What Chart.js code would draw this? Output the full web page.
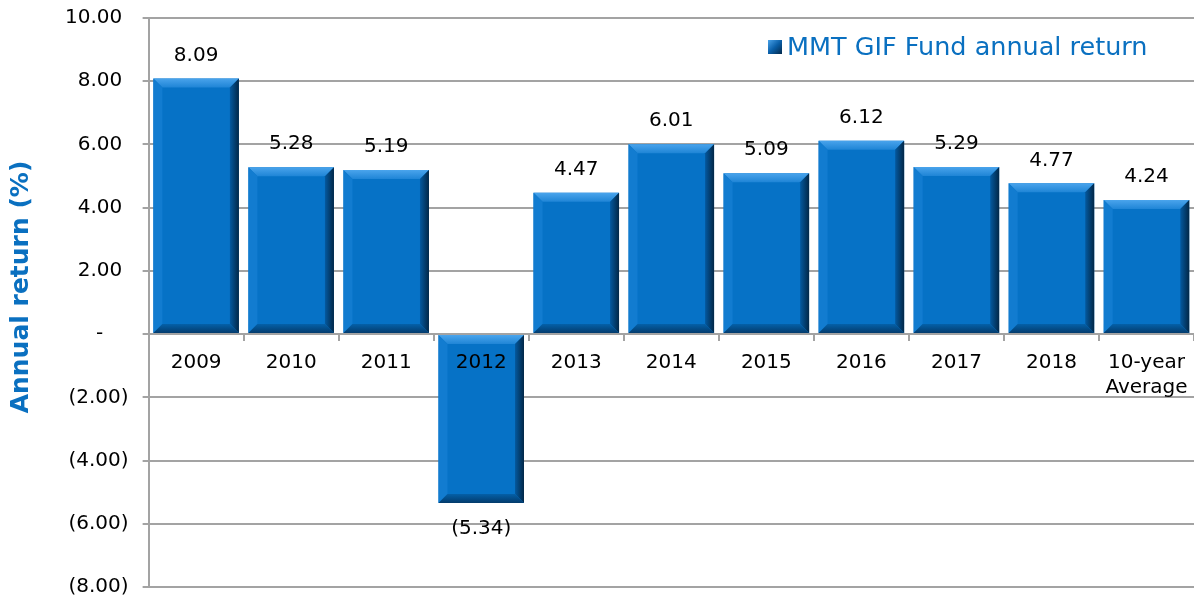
<!DOCTYPE html>
<html lang="en">
<head>
<meta charset="UTF-8">
<title>MMT GIF Fund annual return</title>
<script src="https://cdn.jsdelivr.net/npm/chart.js@4.4.1/dist/chart.umd.min.js"></script>
<style>
  html, body { margin: 0; padding: 0; background: #fff; }
  #wrap { width: 1194px; height: 598px; }
</style>
</head>
<body>
<div id="wrap"><canvas id="chart" width="1194" height="598"></canvas></div>
<script>
  const categories = ['2009', '2010', '2011', '2012', '2013', '2014', '2015', '2016', '2017', '2018', ['10-year', 'Average']];
  const annualReturn = [8.09, 5.28, 5.19, -5.34, 4.47, 6.01, 5.09, 6.12, 5.29, 4.77, 4.24];
  const seriesName = 'MMT GIF Fund annual return';
  const axisTitle = 'Annual return (%)';
  const yTicks = [-8, -6, -4, -2, 0, 2, 4, 6, 8, 10];

  const FONT = 'DejaVu Sans, Verdana, sans-serif';
  const BLUE = '#0672c6';
  const GRID = '#a3a3a3';

  // excel accounting style: (2.00), -, 10.00
  function fmt(v) {
    if (Math.abs(v) < 1e-9) return '-    ';
    if (v < 0) return '(' + Math.abs(v).toFixed(2) + ')';
    return v.toFixed(2) + ' ';
  }

  // bevelled look on top of each bar the library drew
  const bevel = {
    id: 'bevel',
    afterDatasetsDraw(chart) {
      const ctx = chart.ctx;
      const b = 9;
      chart.getDatasetMeta(0).data.forEach(bar => {
        const l = bar.x - bar.width / 2, r = bar.x + bar.width / 2;
        const t = Math.min(bar.y, bar.base), bt = Math.max(bar.y, bar.base);
        ctx.save();
        let g = ctx.createLinearGradient(0, t, 0, t + b);
        g.addColorStop(0, '#4aa4ec');
        g.addColorStop(1, '#1f85d6');
        poly(ctx, [[l, t], [r, t], [r - b, t + b], [l + b, t + b]], g);
        poly(ctx, [[l, t], [l + b, t + b], [l + b, bt - b], [l, bt]], '#127cd0');
        g = ctx.createLinearGradient(r - b, 0, r, 0);
        g.addColorStop(0, '#04599f');
        g.addColorStop(1, '#022747');
        poly(ctx, [[r, t], [r, bt], [r - b, bt - b], [r - b, t + b]], g);
        g = ctx.createLinearGradient(0, bt - b, 0, bt);
        g.addColorStop(0, '#0460a8');
        g.addColorStop(1, '#033b6c');
        poly(ctx, [[l, bt], [r, bt], [r - b, bt - b], [l + b, bt - b]], g);
        ctx.restore();
      });
    }
  };

  function poly(ctx, pts, fill) {
    ctx.beginPath();
    ctx.moveTo(pts[0][0], pts[0][1]);
    for (let i = 1; i < pts.length; i++) ctx.lineTo(pts[i][0], pts[i][1]);
    ctx.closePath();
    ctx.fillStyle = fill;
    ctx.fill();
  }

  // value labels, axis title and legend
  const extras = {
    id: 'extras',
    afterDraw(chart) {
      const ctx = chart.ctx;
      ctx.save();
      ctx.font = '20px ' + FONT;
      ctx.fillStyle = '#000';
      ctx.textAlign = 'center';
      ctx.textBaseline = 'middle';
      chart.getDatasetMeta(0).data.forEach((bar, i) => {
        const v = annualReturn[i];
        const y = v >= 0 ? bar.y - 23 : bar.y + 26;
        ctx.fillText(fmt(v).trim(), bar.x, y);
      });

      // y axis title
      ctx.save();
      ctx.translate(21, 287);
      ctx.rotate(-Math.PI / 2);
      ctx.font = 'bold 25px ' + FONT;
      ctx.fillStyle = '#0a70c0';
      ctx.fillText(axisTitle, 0, 0);
      ctx.restore();

      // legend
      const mx = 768, my = 40, ms = 14;
      const lg = ctx.createLinearGradient(mx, my, mx + ms, my + ms);
      lg.addColorStop(0, '#4aa3ea');
      lg.addColorStop(0.5, '#0a5fa8');
      lg.addColorStop(1, '#02284a');
      ctx.fillStyle = lg;
      ctx.fillRect(mx, my, ms, ms);
      ctx.font = '25.5px ' + FONT;
      ctx.fillStyle = '#0a70c0';
      ctx.textAlign = 'left';
      ctx.fillText(seriesName, 787, 48);
      ctx.restore();
    }
  };

  new Chart(document.getElementById('chart'), {
    type: 'bar',
    data: {
      labels: categories,
      datasets: [{
        label: seriesName,
        data: annualReturn,
        backgroundColor: BLUE,
        borderWidth: 0,
        barPercentage: 0.9,
        categoryPercentage: 1.0
      }]
    },
    options: {
      responsive: false,
      animation: false,
      layout: { padding: { left: 51, top: 18, right: 0, bottom: 11 } },
      plugins: {
        legend: { display: false },
        tooltip: { enabled: false }
      },
      scales: {
        y: {
          min: -8,
          max: 10,
          afterBuildTicks(scale) { scale.ticks = yTicks.map(v => ({ value: v })); },
          afterFit(scale) { scale.paddingTop = 0; scale.paddingBottom = 0; },
          ticks: {
            callback: v => fmt(v),
            font: { family: FONT, size: 20 },
            color: '#000',
            padding: 14
          },
          grid: { color: GRID, lineWidth: 2, tickLength: 6 },
          border: { color: GRID, width: 2 }
        },
        x: {
          position: { y: 0 },
          afterFit(scale) { scale.height = 0; scale.paddingLeft = 0; scale.paddingRight = 0; },
          ticks: {
            z: 1,
            font: { family: FONT, size: 20, lineHeight: 1.25 },
            color: '#000',
            padding: 10,
            maxRotation: 0,
            autoSkip: false
          },
          grid: { drawOnChartArea: false, color: GRID, lineWidth: 2, tickLength: 6 },
          border: { color: GRID, width: 2 }
        }
      }
    },
    plugins: [bevel, extras]
  });
</script>
</body>
</html>
